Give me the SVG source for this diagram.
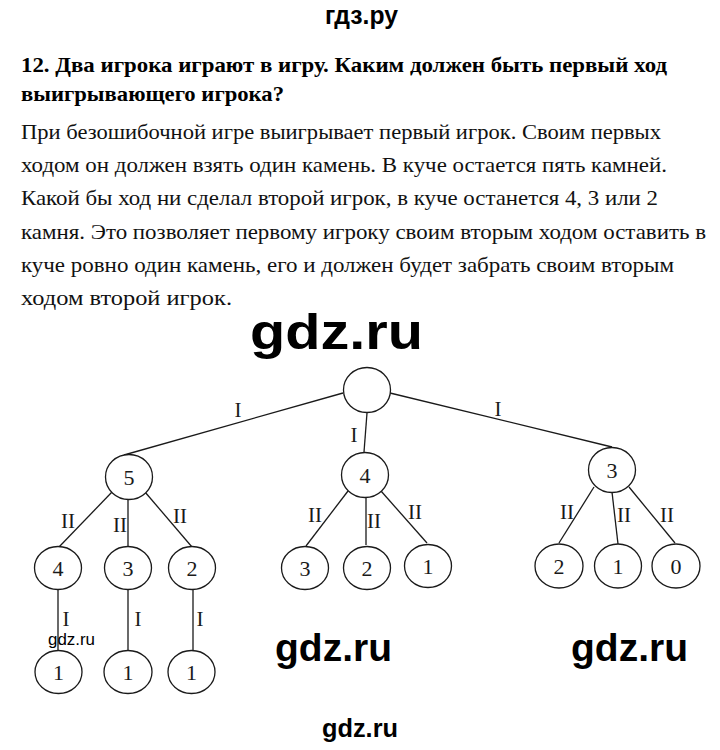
<svg xmlns="http://www.w3.org/2000/svg" width="720" height="750" viewBox="0 0 720 750">
<rect x="0" y="0" width="720" height="750" fill="#fff"/>
<g id="title" fill="#000">
<text x="21" y="72" font-family="Liberation Serif" font-weight="bold" font-size="22" textLength="646" lengthAdjust="spacingAndGlyphs">12. Два игрока играют в игру. Каким должен быть первый ход</text>
<text x="21" y="101" font-family="Liberation Serif" font-weight="bold" font-size="22" textLength="263" lengthAdjust="spacingAndGlyphs">выигрывающего игрока?</text>
</g>
<g id="body" fill="#111">
<text x="21" y="139" font-family="Liberation Serif" font-size="22" textLength="640" lengthAdjust="spacingAndGlyphs">При безошибочной игре выигрывает первый игрок. Своим первых</text>
<text x="21" y="172" font-family="Liberation Serif" font-size="22" textLength="646" lengthAdjust="spacingAndGlyphs">ходом он должен взять один камень. В куче остается пять камней.</text>
<text x="21" y="205" font-family="Liberation Serif" font-size="22" textLength="637" lengthAdjust="spacingAndGlyphs">Какой бы ход ни сделал второй игрок, в куче останется 4, 3 или 2</text>
<text x="21" y="239" font-family="Liberation Serif" font-size="22" textLength="685" lengthAdjust="spacingAndGlyphs">камня. Это позволяет первому игроку своим вторым ходом оставить в</text>
<text x="21" y="272" font-family="Liberation Serif" font-size="22" textLength="653" lengthAdjust="spacingAndGlyphs">куче ровно один камень, его и должен будет забрать своим вторым</text>
<text x="21" y="305" font-family="Liberation Serif" font-size="22" textLength="211" lengthAdjust="spacingAndGlyphs">ходом второй игрок.</text>
</g>
<g id="watermarks" fill="#000">
<text x="325" y="24" font-family="Liberation Sans" font-weight="bold" font-size="26" textLength="73" lengthAdjust="spacingAndGlyphs">гдз.ру</text>
<text x="250" y="349" font-family="Liberation Sans" font-weight="bold" font-size="50" textLength="173" lengthAdjust="spacingAndGlyphs">gdz.ru</text>
<text x="275" y="661" font-family="Liberation Sans" font-weight="bold" font-size="38" textLength="117" lengthAdjust="spacingAndGlyphs">gdz.ru</text>
<text x="571" y="661" font-family="Liberation Sans" font-weight="bold" font-size="38" textLength="117" lengthAdjust="spacingAndGlyphs">gdz.ru</text>
<text x="322" y="737" font-family="Liberation Sans" font-weight="bold" font-size="26" textLength="76" lengthAdjust="spacingAndGlyphs">gdz.ru</text>
</g>
<g id="edges" stroke="#1a1a1a" stroke-width="1.3">
<line x1="343" y1="393" x2="124" y2="455"/>
<line x1="367" y1="413" x2="364" y2="452"/>
<line x1="390" y1="393" x2="612" y2="447"/>
<line x1="112" y1="492" x2="59" y2="547"/>
<line x1="128" y1="500" x2="128" y2="547"/>
<line x1="145" y1="492" x2="192" y2="547"/>
<line x1="348" y1="491" x2="306" y2="546"/>
<line x1="366" y1="498" x2="366" y2="545"/>
<line x1="381" y1="491" x2="427" y2="543"/>
<line x1="594" y1="487" x2="559" y2="543"/>
<line x1="612" y1="492" x2="618" y2="544"/>
<line x1="629" y1="487" x2="675" y2="543"/>
<line x1="58" y1="590" x2="58" y2="651"/>
<line x1="128" y1="590" x2="128" y2="651"/>
<line x1="193" y1="590" x2="193" y2="651"/>
</g>
<g id="labels" fill="#1a1a1a" text-anchor="middle" font-family="Liberation Serif" font-size="21">
<text x="238" y="417">I</text>
<text x="354" y="442">I</text>
<text x="498" y="416">I</text>
<text x="68" y="528">II</text>
<text x="120" y="532">II</text>
<text x="180" y="523">II</text>
<text x="315" y="522">II</text>
<text x="374" y="528">II</text>
<text x="415" y="519">II</text>
<text x="567" y="519">II</text>
<text x="624" y="522">II</text>
<text x="667" y="522">II</text>
<text x="66" y="626">I</text>
<text x="138" y="626">I</text>
<text x="200" y="626">I</text>
</g>
<g id="nodes" fill="#fff" stroke="#1a1a1a" stroke-width="1.3">
<g id="n-root"><ellipse cx="367" cy="390" rx="23.5" ry="22.5"/></g>
<g id="n-5"><ellipse cx="129" cy="477" rx="23.5" ry="22.5"/><text x="129" y="485" font-family="Liberation Serif" font-size="22" fill="#1a1a1a" stroke="none" text-anchor="middle">5</text></g>
<g id="n-4"><ellipse cx="365" cy="475" rx="23.5" ry="22.5"/><text x="365" y="483" font-family="Liberation Serif" font-size="22" fill="#1a1a1a" stroke="none" text-anchor="middle">4</text></g>
<g id="n-3"><ellipse cx="612" cy="470" rx="23.5" ry="22.5"/><text x="612" y="478" font-family="Liberation Serif" font-size="22" fill="#1a1a1a" stroke="none" text-anchor="middle">3</text></g>
<g id="n-5-4"><ellipse cx="58" cy="568" rx="23.5" ry="21.5"/><text x="58" y="576" font-family="Liberation Serif" font-size="22" fill="#1a1a1a" stroke="none" text-anchor="middle">4</text></g>
<g id="n-5-3"><ellipse cx="128" cy="568" rx="23.5" ry="21.5"/><text x="128" y="576" font-family="Liberation Serif" font-size="22" fill="#1a1a1a" stroke="none" text-anchor="middle">3</text></g>
<g id="n-5-2"><ellipse cx="192" cy="568" rx="23.5" ry="21.5"/><text x="192" y="576" font-family="Liberation Serif" font-size="22" fill="#1a1a1a" stroke="none" text-anchor="middle">2</text></g>
<g id="n-4-3"><ellipse cx="305" cy="568" rx="23.5" ry="21.5"/><text x="305" y="576" font-family="Liberation Serif" font-size="22" fill="#1a1a1a" stroke="none" text-anchor="middle">3</text></g>
<g id="n-4-2"><ellipse cx="367" cy="568" rx="23.5" ry="21.5"/><text x="367" y="576" font-family="Liberation Serif" font-size="22" fill="#1a1a1a" stroke="none" text-anchor="middle">2</text></g>
<g id="n-4-1"><ellipse cx="428" cy="566" rx="23.5" ry="21.5"/><text x="428" y="574" font-family="Liberation Serif" font-size="22" fill="#1a1a1a" stroke="none" text-anchor="middle">1</text></g>
<g id="n-3-2"><ellipse cx="559" cy="566" rx="24" ry="22"/><text x="559" y="574" font-family="Liberation Serif" font-size="22" fill="#1a1a1a" stroke="none" text-anchor="middle">2</text></g>
<g id="n-3-1"><ellipse cx="618" cy="566" rx="23.5" ry="22"/><text x="618" y="574" font-family="Liberation Serif" font-size="22" fill="#1a1a1a" stroke="none" text-anchor="middle">1</text></g>
<g id="n-3-0"><ellipse cx="676" cy="566" rx="24" ry="22"/><text x="676" y="574" font-family="Liberation Serif" font-size="22" fill="#1a1a1a" stroke="none" text-anchor="middle">0</text></g>
<g id="n-4-1b"><ellipse cx="58.5" cy="672" rx="23.5" ry="21.5"/><text x="58.5" y="680" font-family="Liberation Serif" font-size="22" fill="#1a1a1a" stroke="none" text-anchor="middle">1</text></g>
<g id="n-3-1b"><ellipse cx="128" cy="672" rx="24" ry="21.5"/><text x="128" y="680" font-family="Liberation Serif" font-size="22" fill="#1a1a1a" stroke="none" text-anchor="middle">1</text></g>
<g id="n-2-1b"><ellipse cx="191.5" cy="672" rx="23.5" ry="21.5"/><text x="191.5" y="680" font-family="Liberation Serif" font-size="22" fill="#1a1a1a" stroke="none" text-anchor="middle">1</text></g>
</g>
<text x="48" y="645" font-family="Liberation Sans" font-size="17" fill="#000" textLength="47" lengthAdjust="spacingAndGlyphs">gdz.ru</text>
</svg>
